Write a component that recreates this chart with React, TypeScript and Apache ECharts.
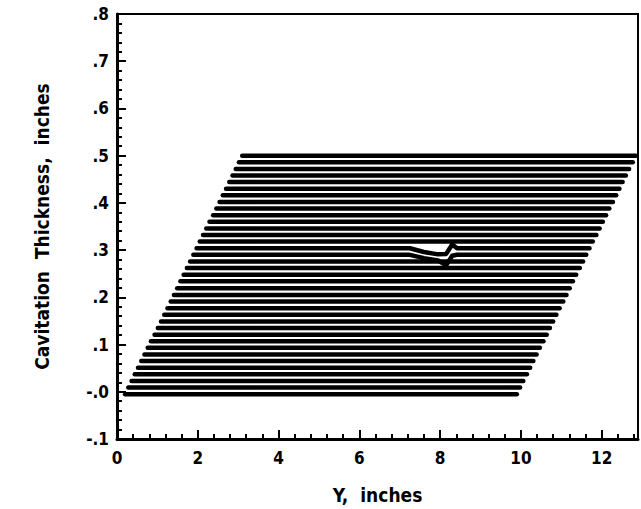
import React, { useEffect, useRef } from "react";
import * as echarts from "echarts";

// Baseline (y) of each profile line, read bottom to top
const lineY = [
  -0.005, 0.009, 0.023, 0.037, 0.051, 0.065, 0.079, 0.093, 0.107, 0.121,
  0.135, 0.149, 0.163, 0.177, 0.191, 0.205, 0.219, 0.234, 0.248, 0.262,
  0.276, 0.29, 0.304, 0.318, 0.332, 0.346, 0.36, 0.374, 0.388, 0.402,
  0.416, 0.43, 0.444, 0.458, 0.472, 0.486, 0.5,
];
// Left end (Y, inches) of each line
const lineStartX = [
  0.2, 0.28, 0.36, 0.44, 0.52, 0.6, 0.68, 0.76, 0.84, 0.93,
  1.01, 1.09, 1.17, 1.25, 1.33, 1.41, 1.49, 1.57, 1.65, 1.73,
  1.81, 1.89, 1.97, 2.05, 2.13, 2.21, 2.29, 2.38, 2.46, 2.54,
  2.62, 2.7, 2.78, 2.86, 2.94, 3.02, 3.1,
];
// Right end (Y, inches) of each line
const lineEndX = [
  9.9, 9.98, 10.06, 10.15, 10.23, 10.31, 10.39, 10.47, 10.56, 10.64,
  10.72, 10.8, 10.88, 10.96, 11.05, 11.13, 11.21, 11.29, 11.37, 11.46,
  11.54, 11.62, 11.7, 11.78, 11.87, 11.95, 12.03, 12.11, 12.19, 12.28,
  12.36, 12.44, 12.52, 12.6, 12.68, 12.77, 12.85,
];
// Local disturbance near Y = 7.3 .. 8.4 on lines 21 and 22
const bumpX = [7.25, 7.6, 7.95, 8.15, 8.3, 8.42];
const bumpLine21 = [0.29, 0.283, 0.278, 0.268, 0.288, 0.29];
const bumpLine22 = [0.304, 0.296, 0.291, 0.292, 0.312, 0.304];

const xTicks = [0, 2, 4, 6, 8, 10, 12];
const yTickLabels: Record<number, string> = {
  [-1]: "-.1", 0: "-.0", 1: ".1", 2: ".2", 3: ".3", 4: ".4", 5: ".5", 6: ".6", 7: ".7", 8: ".8",
};

const FONT = "'Liberation Sans Narrow', 'DejaVu Sans Condensed', 'Arial Narrow', sans-serif";

export default function App() {
  const ref = useRef<HTMLDivElement>(null);
  useEffect(() => {
    if (!ref.current) return;
    const chart = echarts.init(ref.current, null, { renderer: "svg" });
    const series: any[] = lineY.map((y, i) => {
      let data: number[][] = [[lineStartX[i], y]];
      if (i === 21 || i === 22) {
        const b = i === 21 ? bumpLine21 : bumpLine22;
        bumpX.forEach((bx, k) => data.push([bx, b[k]]));
      }
      data.push([lineEndX[i], y]);
      return {
        type: "line",
        data,
        showSymbol: false,
        silent: true,
        lineStyle: { color: "#000", width: 4.5, cap: "round", join: "round" },
      };
    });
    chart.setOption({
      animation: false,
      backgroundColor: "#fff",
      grid: {
        left: 117,
        top: 14,
        right: 3,
        bottom: 67,
        show: true,
        borderColor: "#000",
        borderWidth: 2,
      },
      xAxis: {
        type: "value",
        min: 0,
        max: 12.9,
        interval: 2,
        name: "Y,  inches",
        nameLocation: "middle",
        nameGap: 46,
        nameTextStyle: { fontFamily: FONT, fontWeight: "bold", fontSize: 19, color: "#000" },
        axisLine: { show: true, onZero: false, lineStyle: { color: "#000", width: 3 } },
        axisTick: { show: true, inside: true, length: 9, lineStyle: { color: "#000", width: 2 } },
        minorTick: { show: true, splitNumber: 5, length: 5, lineStyle: { color: "#000", width: 2 } },
        splitLine: { show: false },
        axisLabel: {
          showMaxLabel: false,
          margin: 10,
          fontFamily: FONT,
          fontWeight: "bold",
          fontSize: 17,
          color: "#000",
          formatter: (v: number) => (xTicks.includes(Math.round(v)) ? String(Math.round(v)) : ""),
        },
      },
      yAxis: {
        type: "value",
        min: -0.1,
        max: 0.8,
        interval: 0.1,
        name: "Cavitation  Thickness,  inches",
        nameLocation: "middle",
        nameGap: 66,
        nameTextStyle: { fontFamily: FONT, fontWeight: "bold", fontSize: 19, color: "#000" },
        axisLine: { show: true, onZero: false, lineStyle: { color: "#000", width: 3 } },
        axisTick: { show: true, inside: true, length: 9, lineStyle: { color: "#000", width: 2 } },
        minorTick: { show: true, splitNumber: 5, length: 5, lineStyle: { color: "#000", width: 2 } },
        splitLine: { show: false },
        axisLabel: {
          margin: 8,
          fontFamily: FONT,
          fontWeight: "bold",
          fontSize: 17,
          color: "#000",
          formatter: (v: number) => yTickLabels[Math.round(v * 10)] ?? "",
        },
      },
      series,
    });
    return () => chart.dispose();
  }, []);
  return <div ref={ref} style={{ width: 641, height: 509, position: "absolute", left: 0, top: 0 }} />;
}
